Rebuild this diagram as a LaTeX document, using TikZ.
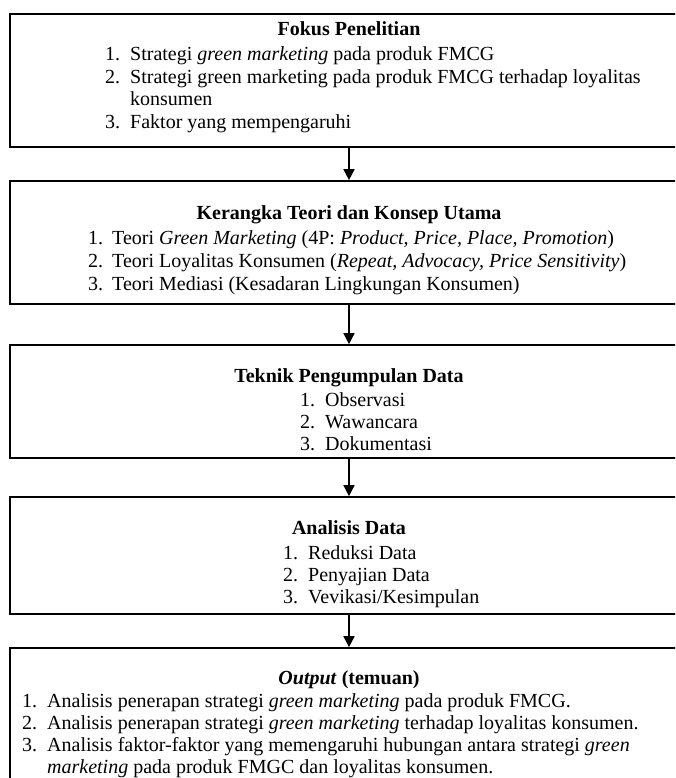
\documentclass[tikz,border=0pt]{standalone}
\usepackage{fontspec}
\setmainfont{Liberation Serif}
\usetikzlibrary{arrows.meta}
\begin{document}
\begin{tikzpicture}[x=1pt,y=-1pt,
  box/.style={draw=black, line width=1.7pt, rectangle, inner sep=0pt, minimum width=678pt},
  ttl/.style={anchor=base, inner sep=0pt, font=\bfseries\fontsize{20}{23}\selectfont},
  num/.style={anchor=base west, inner sep=0pt, font=\fontsize{20}{23}\selectfont},
  txt/.style={anchor=base west, inner sep=0pt, font=\fontsize{20}{23}\selectfont},
  arr/.style={line width=1.7pt, -{Triangle[length=11pt,width=11pt]}}
]
\clip (0,0) rectangle (675,778);
\fill[white] (0,0) rectangle (675,778);

% boxes
\node[box, minimum height=133pt] (b1) at (349,80.5) {};
\node[box, minimum height=123pt] (b2) at (349,242.5) {};
\node[box, minimum height=113pt] (b3) at (349,401.5) {};
\node[box, minimum height=117pt] (b4) at (349,555.5) {};
\node[box, minimum height=160pt] (b5) at (349,728) {};

% arrows
\draw[arr] (b1.south) -- (b2.north);
\draw[arr] (b2.south) -- (b3.north);
\draw[arr] (b3.south) -- (b4.north);
\draw[arr] (b4.south) -- (b5.north);

% box 1
\node[ttl] (t1) at (349,36) {Fokus Penelitian};
\node[num] (n11) at (105,61) {1.};
\node[txt] (i11) at (130,61) {Strategi \textit{green marketing} pada produk FMCG};
\node[num] (n12) at (105,84) {2.};
\node[txt] (i12) at (130,84) {Strategi green marketing pada produk FMCG terhadap loyalitas};
\node[txt] (i12b) at (130,106) {konsumen};
\node[num] (n13) at (105,129) {3.};
\node[txt] (i13) at (130,129) {Faktor yang mempengaruhi};

% box 2
\node[ttl] (t2) at (349,219) {Kerangka Teori dan Konsep Utama};
\node[num] (n21) at (88,244) {1.};
\node[txt] (i21) at (112,244) {Teori \textit{Green Marketing} (4P: \textit{Product, Price, Place, Promotion})};
\node[num] (n22) at (88,267) {2.};
\node[txt] (i22) at (112,267) {Teori Loyalitas Konsumen (\textit{Repeat, Advocacy, Price Sensitivity})};
\node[num] (n23) at (88,290) {3.};
\node[txt] (i23) at (112,290) {Teori Mediasi (Kesadaran Lingkungan Konsumen)};

% box 3
\node[ttl] (t3) at (349,382) {Teknik Pengumpulan Data};
\node[num] (n31) at (300,406) {1.};
\node[txt] (i31) at (325,406) {Observasi};
\node[num] (n32) at (300,428) {2.};
\node[txt] (i32) at (325,428) {Wawancara};
\node[num] (n33) at (300,450) {3.};
\node[txt] (i33) at (325,450) {Dokumentasi};

% box 4
\node[ttl] (t4) at (349,534) {Analisis Data};
\node[num] (n41) at (283,559) {1.};
\node[txt] (i41) at (308,559) {Reduksi Data};
\node[num] (n42) at (283,581) {2.};
\node[txt] (i42) at (308,581) {Penyajian Data};
\node[num] (n43) at (283,603) {3.};
\node[txt] (i43) at (308,603) {Vevikasi/Kesimpulan};

% box 5
\node[ttl] (t5) at (349,684) {\textit{Output} (temuan)};
\node[num] (n51) at (22,707) {1.};
\node[txt] (i51) at (47,707) {Analisis penerapan strategi \textit{green marketing} pada produk FMCG.};
\node[num] (n52) at (22,729) {2.};
\node[txt] (i52) at (47,729) {Analisis penerapan strategi \textit{green marketing} terhadap loyalitas konsumen.};
\node[num] (n53) at (22,751) {3.};
\node[txt] (i53) at (47,751) {Analisis faktor-faktor yang memengaruhi hubungan antara strategi \textit{green}};
\node[txt] (i53b) at (47,773) {\textit{marketing} pada produk FMGC dan loyalitas konsumen.};
\end{tikzpicture}
\end{document}
